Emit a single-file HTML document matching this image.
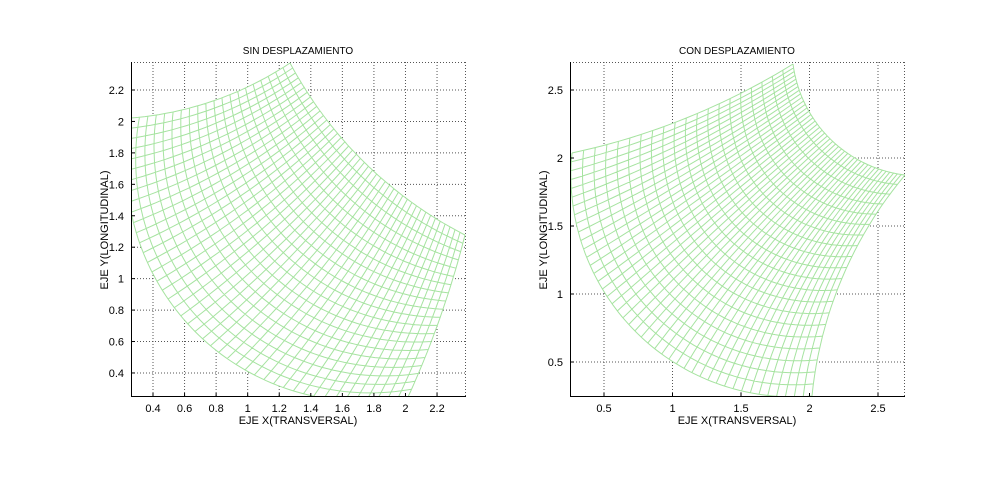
<!DOCTYPE html>
<html><head><meta charset="utf-8"><style>
html,body{margin:0;padding:0;background:#fff;}
svg text{font-family:"Liberation Sans",Arial,sans-serif;fill:#000;}
</style></head><body>
<svg id="s" width="1000" height="476" viewBox="0 0 1000 476" xmlns="http://www.w3.org/2000/svg">
<defs>
<clipPath id="cL"><rect x="131" y="62" width="335" height="335"/></clipPath>
<clipPath id="cR"><rect x="570" y="62" width="335" height="335"/></clipPath>
</defs>
<rect width="1000" height="476" fill="#fff"/>
<g id="g"></g>
<text x="298" y="54" font-size="10" text-anchor="middle">SIN DESPLAZAMIENTO</text>
<text x="737" y="54" font-size="10" text-anchor="middle">CON DESPLAZAMIENTO</text>
<text x="298" y="424" font-size="11" text-anchor="middle">EJE X(TRANSVERSAL)</text>
<text x="737" y="424" font-size="11" text-anchor="middle">EJE X(TRANSVERSAL)</text>
<text transform="translate(108,230) rotate(-90)" font-size="11" text-anchor="middle">EJE Y(LONGITUDINAL)</text>
<text transform="translate(547,230) rotate(-90)" font-size="11" text-anchor="middle">EJE Y(LONGITUDINAL)</text>
</svg>
<script>
const NS="http://www.w3.org/2000/svg",G=document.getElementById('g');
function el(t,a,txt,par){const e=document.createElementNS(NS,t);for(const k in a)e.setAttribute(k,a[k]);if(txt!==undefined&&txt!==null)e.textContent=txt;(par||G).appendChild(e);return e;}
function axes(x0,x1,y0,y1,xt,yt){
  xt.forEach(([p])=>el('line',{x1:p,y1:y0,x2:p,y2:y1,stroke:'#555','stroke-width':1,'stroke-dasharray':'1,2'}));
  yt.forEach(([p])=>el('line',{x1:x0,y1:p,x2:x1,y2:p,stroke:'#555','stroke-width':1,'stroke-dasharray':'1,2'}));
  el('line',{x1:x0,y1:y0+0.5,x2:x1,y2:y0+0.5,stroke:'#555','stroke-width':1,'stroke-dasharray':'1,2'});
  el('line',{x1:x1-0.5,y1:y0,x2:x1-0.5,y2:y1,stroke:'#555','stroke-width':1,'stroke-dasharray':'1,2'});
}
function frame(x0,x1,y0,y1,xt,yt){
  el('line',{x1:x0+0.5,y1:y0,x2:x0+0.5,y2:y1,stroke:'#000','stroke-width':1});
  el('line',{x1:x0,y1:y1-0.5,x2:x1,y2:y1-0.5,stroke:'#000','stroke-width':1});
  xt.forEach(([p,l])=>{el('line',{x1:p,y1:y1,x2:p,y2:y1-4,stroke:'#000'});el('text',{x:p,y:y1+15,'font-size':11,'text-anchor':'middle'},l);});
  yt.forEach(([p,l])=>{el('line',{x1:x0,y1:p,x2:x0+4,y2:p,stroke:'#000'});el('text',{x:x0-7,y:p+4,'font-size':11,'text-anchor':'end'},l);});
}
function arc3(p0,p1,p2){
  const ax=p0[0],ay=p0[1],bx=p1[0],by=p1[1],cx=p2[0],cy=p2[1];
  const d=2*(ax*(by-cy)+bx*(cy-ay)+cx*(ay-by));
  const ux=((ax*ax+ay*ay)*(by-cy)+(bx*bx+by*by)*(cy-ay)+(cx*cx+cy*cy)*(ay-by))/d;
  const uy=((ax*ax+ay*ay)*(cx-bx)+(bx*bx+by*by)*(ax-cx)+(cx*cx+cy*cy)*(bx-ax))/d;
  const r=Math.hypot(ax-ux,ay-uy);
  const a0=Math.atan2(ay-uy,ax-ux),a1=Math.atan2(by-uy,bx-ux),a2=Math.atan2(cy-uy,cx-ux);
  const norm=x=>{while(x<=-Math.PI)x+=2*Math.PI;while(x>Math.PI)x-=2*Math.PI;return x;};
  let s1=norm(a1-a0),s2=norm(a2-a0);
  // ensure p1 lies between
  if(!((s1>0&&s2>s1)||(s1<0&&s2<s1))){s2=s2>0?s2-2*Math.PI:s2+2*Math.PI;}
  return t=>{const a=a0+s2*t;return [ux+r*Math.cos(a),uy+r*Math.sin(a)];};
}
function mesh(outA,inA,topA,brA,NU,NV,clip){
  const out=arc3(...outA),inn=arc3(...inA),top=arc3(...topA),br=arc3(...brA);
  const TL=outA[0],B=outA[2],T=inA[0],R=inA[2];
  const P=(u,v)=>{const o=out(u),i=inn(u),t=top(v),b=br(v);
    return [0,1].map(k=>(1-v)*o[k]+v*i[k]+(1-u)*t[k]+u*b[k]-((1-u)*(1-v)*TL[k]+(1-u)*v*T[k]+u*(1-v)*B[k]+u*v*R[k]));};
  const gg=el('g',{'clip-path':'url(#'+clip+')'});
  const S=80;let bd=[];
  for(let i=0;i<=S;i++)bd.push(P(i/S,0));for(let i=0;i<=S;i++)bd.push(P(1,i/S));
  for(let i=S;i>=0;i--)bd.push(P(i/S,1));for(let i=S;i>=0;i--)bd.push(P(0,i/S));
  el('polygon',{points:bd.map(p=>p[0].toFixed(1)+','+p[1].toFixed(1)).join(' '),fill:'#fff',stroke:'none'},null,gg);
  let d='';
  for(let i=0;i<=NU;i++){let pts=[];for(let k=0;k<=24;k++)pts.push(P(i/NU,k/24));d+='M'+pts.map(p=>p[0].toFixed(1)+' '+p[1].toFixed(1)).join('L');}
  for(let j=0;j<=NV;j++){let pts=[];for(let k=0;k<=S;k++)pts.push(P(k/S,j/NV));d+='M'+pts.map(p=>p[0].toFixed(1)+' '+p[1].toFixed(1)).join('L');}
  el('path',{d:d,fill:'none',stroke:'#a6e3a0','stroke-width':1},null,gg);
}
let xtL=[],ytL=[];
for(let i=0;i<10;i++){const v=0.4+0.2*i;xtL.push([153+i*31.56,(Math.round(v*10)/10).toString()]);}
for(let i=0;i<10;i++){const v=2.2-0.2*i;ytL.push([90+i*31.44,(Math.round(v*10)/10).toString()]);}
axes(131,466,62,397,xtL,ytL);
mesh([[131,118],[187,323],[408,397]],
     [[290,63],[387,183],[465,235]],
     [[131,118],[210,102],[290,63]],
     [[408,397],[441,315],[465,235]],44,20,'cL');
frame(131,466,62,397,xtL,ytL);
let xtR=[],ytR=[];
['0.5','1','1.5','2','2.5'].forEach((l,i)=>xtR.push([604+i*68.5,l]));
['2.5','2','1.5','1','0.5'].forEach((l,i)=>ytR.push([90+i*68,l]));
axes(570,905,62,397,xtR,ytR);
mesh([[572,153],[603,290],[812,396]],
     [[793,64],[843,150],[905,175]],
     [[572,153],[660,128],[793,64]],
     [[812,396],[840,283],[905,175]],44,20,'cR');
frame(570,905,62,397,xtR,ytR);
</script>
</body></html>
